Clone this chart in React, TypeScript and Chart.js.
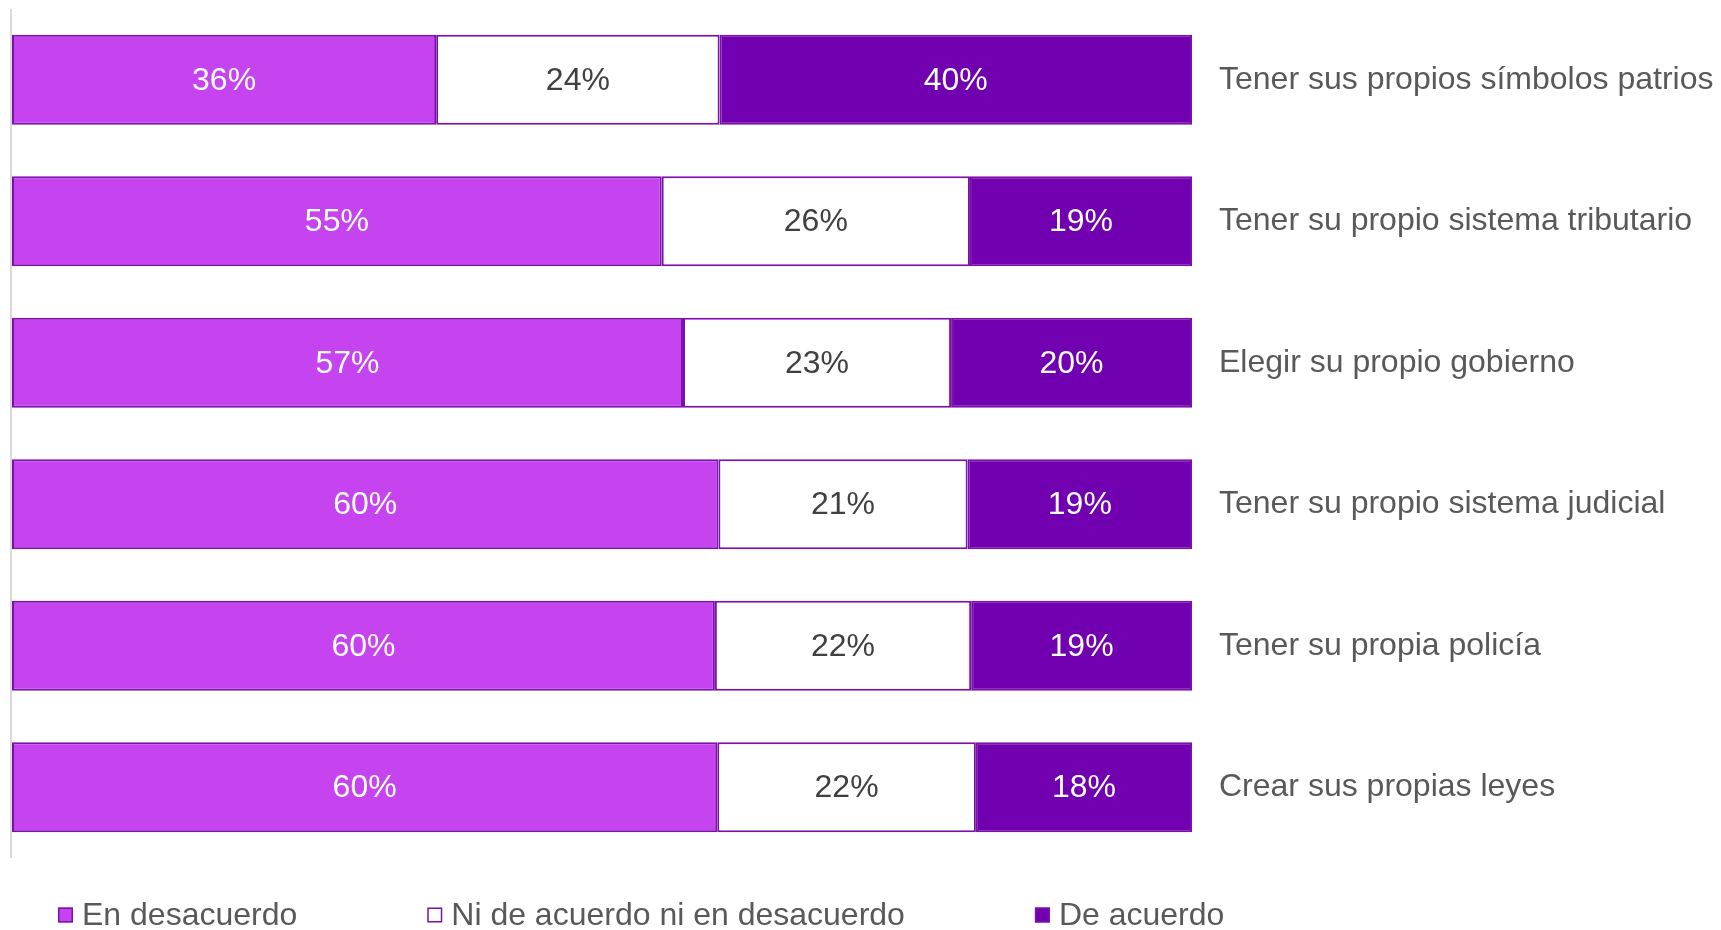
import React, { useEffect, useRef } from "react";
import { Chart, registerables } from "chart.js";

Chart.register(...registerables);

const categories = [
  "Tener sus propios símbolos patrios",
  "Tener su propio sistema tributario",
  "Elegir su propio gobierno",
  "Tener su propio sistema judicial",
  "Tener su propia policía",
  "Crear sus propias leyes",
];

const seriesNames = ["En desacuerdo", "Ni de acuerdo ni en desacuerdo", "De acuerdo"];

const enDesacuerdo = [36.0, 55.1, 56.9, 59.9, 59.6, 59.8];
const niNi = [24.0, 26.1, 22.7, 21.1, 21.7, 21.9];
const deAcuerdo = [40.0, 18.8, 20.4, 19.0, 18.7, 18.3];

const fillColors = ["#C644F0", "#FFFFFF", "#7000B0"];
const labelColors = ["#FFFFFF", "#404040", "#FFFFFF"];
const borderColor = "#7A12AA";
const FONT = "'Liberation Sans', Arial, sans-serif";

const valueLabelPlugin = {
  id: "valueLabels",
  afterDatasetsDraw(chart: any) {
    const ctx = chart.ctx;
    ctx.save();
    ctx.font = `32px ${FONT}`;
    ctx.textAlign = "center";
    ctx.textBaseline = "middle";
    chart.data.datasets.forEach((ds: any, di: number) => {
      const meta = chart.getDatasetMeta(di);
      meta.data.forEach((el: any, i: number) => {
        const v = ds.data[i];
        const cx = (el.x + el.base) / 2;
        ctx.fillStyle = labelColors[di];
        ctx.fillText(`${Math.round(v)}%`, cx, el.y + 1);
      });
    });
    ctx.restore();
  },
};

const legendPlugin = {
  id: "customLegend",
  afterDraw(chart: any) {
    const ctx = chart.ctx;
    ctx.save();
    ctx.font = `32px ${FONT}`;
    ctx.textBaseline = "middle";
    ctx.textAlign = "left";
    const y = 915;
    let x = 58;
    const box = 15;
    seriesNames.forEach((name, i) => {
      ctx.fillStyle = fillColors[i];
      ctx.fillRect(x, y - box / 2, box, box);
      ctx.strokeStyle = borderColor;
      ctx.lineWidth = 1.5;
      ctx.strokeRect(x + 0.75, y - box / 2 + 0.75, box - 1.5, box - 1.5);
      ctx.fillStyle = "#595959";
      const tx = x + box + 9;
      ctx.fillText(name, tx, y + 1);
      x = tx + ctx.measureText(name).width + 130;
    });
    ctx.restore();
  },
};

export default function App() {
  const ref = useRef<HTMLCanvasElement | null>(null);

  useEffect(() => {
    if (!ref.current) return;
    const datasets = [enDesacuerdo, niNi, deAcuerdo].map((data, i) => ({
      label: seriesNames[i],
      data,
      backgroundColor: fillColors[i],
      borderColor: borderColor,
      borderWidth: 2,
      borderSkipped: false,
      barPercentage: 0.636,
      categoryPercentage: 1,
    }));
    const chart = new Chart(ref.current, {
      type: "bar",
      data: { labels: categories, datasets },
      options: {
        animation: false,
        responsive: false,
        indexAxis: "y",
        layout: { padding: { top: 9, bottom: 72, left: 11, right: 0 } },
        plugins: {
          legend: { display: false },
          tooltip: { enabled: false },
        },
        scales: {
          x: {
            stacked: true,
            min: 0,
            max: 100,
            ticks: { display: false },
            grid: {
              drawTicks: false,
              lineWidth: 2,
              color: (c: any) => (c.tick && c.tick.value === 0 ? "#D9D9D9" : "rgba(0,0,0,0)"),
            },
            border: { display: false },
            afterFit: (axis: any) => {
              axis.height = 0;
              axis.paddingLeft = 0;
              axis.paddingRight = 0;
            },
          },
          y: {
            stacked: true,
            position: "right",
            grid: { display: false, drawTicks: false },
            border: { display: false },
            ticks: {
              padding: 27,
              color: "#595959",
              font: { family: FONT, size: 32 },
              crossAlign: "near",
            },
            afterFit: (axis: any) => {
              axis.width = 529;
              axis.paddingTop = 0;
              axis.paddingBottom = 0;
            },
          },
        },
      },
      plugins: [valueLabelPlugin, legendPlugin],
    });
    return () => chart.destroy();
  }, []);

  return (
    <div style={{ position: "fixed", left: 0, top: 0, width: 1721, height: 930, background: "#fff" }}>
      <canvas ref={ref} width={1721} height={930} style={{ width: 1721, height: 930 }} />
    </div>
  );
}
